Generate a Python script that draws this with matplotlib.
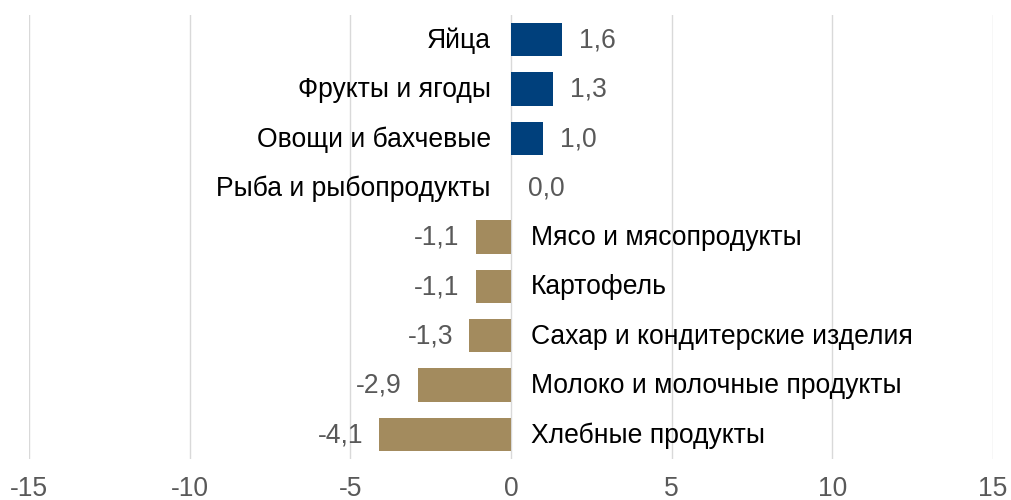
import numpy as np
import matplotlib.pyplot as plt
from matplotlib.transforms import offset_copy

plt.rcParams['font.family'] = ['Liberation Sans', 'DejaVu Sans']

categories = ['Яйца', 'Фрукты и ягоды', 'Овощи и бахчевые', 'Рыба и рыбопродукты',
              'Мясо и мясопродукты', 'Картофель', 'Сахар и кондитерские изделия',
              'Молоко и молочные продукты', 'Хлебные продукты']
values = [1.6, 1.3, 1.0, 0.0, -1.1, -1.1, -1.3, -2.9, -4.1]
xticks = [-15, -10, -5, 0, 5, 10, 15]

blue = '#00407C'
gold = '#A38B5E'
gray = '#595959'
fs = 19.1

fig = plt.figure(figsize=(10.11, 5), dpi=100)
ax = fig.add_axes([29/1011, 41/500, (993-29)/1011, 444/500])

y = np.arange(len(categories))
colors = [blue if v >= 0 else gold for v in values]
ax.barh(y, values, height=0.67, color=colors, zorder=2)

for yi, cat, v in zip(y, categories, values):
    val = f'{v:.1f}'.replace('.', ',')
    if v >= 0:
        tr = offset_copy(ax.transData, fig=fig, x=-20, y=-1, units='dots')
        ax.text(0, yi, cat, transform=tr, ha='right', va='center', fontsize=fs, color='black')
        tr = offset_copy(ax.transData, fig=fig, x=17, y=-1, units='dots')
        ax.text(v, yi, val, transform=tr, ha='left', va='center', fontsize=fs, color=gray)
    else:
        tr = offset_copy(ax.transData, fig=fig, x=20, y=-1, units='dots')
        ax.text(0, yi, cat, transform=tr, ha='left', va='center', fontsize=fs, color='black')
        tr = offset_copy(ax.transData, fig=fig, x=-16, y=-1, units='dots')
        ax.text(v, yi, val, transform=tr, ha='right', va='center', fontsize=fs, color=gray)

ax.set_xlim(-15, 15)
ax.set_ylim(len(categories) - 0.5, -0.5)
ax.set_xticks(xticks)
ax.set_xticklabels([str(t) for t in xticks], fontsize=fs, color=gray)
ax.set_yticks([])
ax.tick_params(axis='x', length=0, pad=12)
ax.grid(axis='x', color='#D9D9D9', linewidth=1, zorder=0)
for s in ax.spines.values():
    s.set_visible(False)

fig.savefig('out.png', dpi=100)
